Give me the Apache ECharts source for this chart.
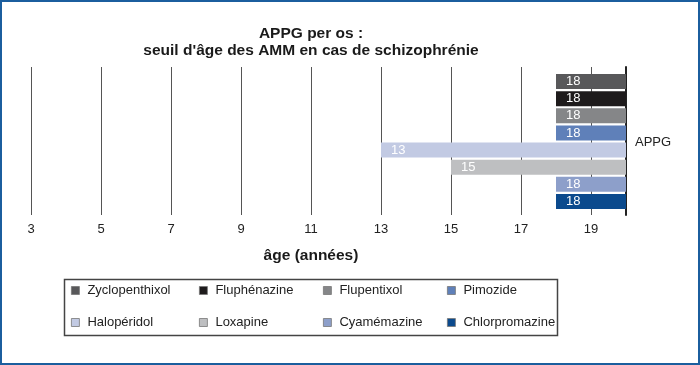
<!DOCTYPE html>
<html>
<head>
<meta charset="utf-8">
<script src="https://cdn.jsdelivr.net/npm/echarts@6/dist/echarts.min.js"></script>
<style>
  html, body { margin: 0; padding: 0; background: #fff; }
  #chart { width: 700px; height: 365px; }
</style>
</head>
<body>
<div id="chart"></div>
<script>
// ---- Data ----
const categories = ['Zyclopenthixol', 'Fluphénazine', 'Flupentixol', 'Pimozide', 'Halopéridol', 'Loxapine', 'Cyamémazine', 'Chlorpromazine'];
const ageThreshold = [18, 18, 18, 18, 13, 15, 18, 18];
const axisMin = 3;
const axisMax = 20;
const tickStep = 2;
const colors = ['#58585a', '#1e1b1c', '#858688', '#5f80b9', '#c2cae3', '#bebfc1', '#8d9fca', '#0b4a8d'];
const titleText = "APPG per os :\nseuil d'âge des AMM en cas de schizophrénie";
const axisTitle = 'âge (années)';
const sideLabel = 'APPG';

// ---- Layout ----
const FONT = "'Liberation Sans', Arial, Helvetica, sans-serif";
const legendCols = [71, 199, 323, 447];
const legendRows = [284, 316];

const chart = echarts.init(document.getElementById('chart'), null, { renderer: 'canvas' });

const series = [{
  name: '__base',
  type: 'bar',
  stack: 's',
  xAxisIndex: 1,
  yAxisIndex: 1,
  barWidth: 15,
  silent: true,
  itemStyle: { color: 'rgba(0,0,0,0)' },
  data: ageThreshold
}];
categories.forEach((name, i) => {
  series.push({
    name: name,
    type: 'bar',
    stack: 's',
    xAxisIndex: 1,
    yAxisIndex: 1,
    barWidth: 15,
    itemStyle: { color: colors[i] },
    label: {
      show: true,
      position: 'insideLeft',
      distance: 10,
      formatter: String(ageThreshold[i]),
      color: '#fff',
      fontSize: 13,
      fontFamily: FONT
    },
    data: categories.map((c, j) => j === i ? axisMax - ageThreshold[i] : '-')
  });
});

const legends = categories.map((name, i) => ({
  data: [name],
  left: legendCols[i % 4],
  top: legendRows[Math.floor(i / 4)],
  orient: 'horizontal',
  padding: 0,
  itemWidth: 8,
  itemHeight: 8,
  icon: 'rect',
  selectedMode: false,
  itemStyle: { borderColor: '#777', borderWidth: 0.8 },
  textStyle: { fontSize: 13, color: '#222', fontFamily: FONT, padding: [0, 0, 0, 3] }
}));

chart.setOption({
  animation: false,
  backgroundColor: '#fff',
  textStyle: { fontFamily: FONT },
  grid: [
    { left: 31, right: 74, top: 67, bottom: 150 },
    { left: 31, right: 74, top: 73, height: 137 }
  ],
  xAxis: [{
    gridIndex: 0,
    type: 'value',
    min: axisMin,
    max: axisMax,
    interval: tickStep,
    axisLine: { show: false },
    axisTick: { show: false },
    splitLine: { show: true, lineStyle: { color: '#555', width: 1 } },
    axisLabel: { show: true, showMaxLabel: false, margin: 8, fontSize: 13, color: '#222', fontFamily: FONT }
  }, {
    gridIndex: 1,
    type: 'value',
    min: axisMin,
    max: axisMax,
    show: false
  }],
  yAxis: [{
    gridIndex: 0,
    type: 'value',
    position: 'right',
    axisLine: { show: true, onZero: false, lineStyle: { color: '#222', width: 2 } },
    axisTick: { show: false },
    axisLabel: { show: false },
    splitLine: { show: false }
  }, {
    gridIndex: 1,
    type: 'category',
    inverse: true,
    data: categories,
    show: false
  }],
  legend: legends,
  series: series,
  graphic: [
    {
      type: 'rect', silent: true,
      shape: { x: 1, y: 1, width: 698, height: 363 },
      style: { fill: 'none', stroke: '#1b5e9e', lineWidth: 2 }
    },
    {
      type: 'rect', silent: true,
      shape: { x: 64.5, y: 279.5, width: 493, height: 56 },
      style: { fill: 'none', stroke: '#444', lineWidth: 1.5 }
    },
    {
      type: 'text', silent: true, x: 311, y: 42.5,
      style: { text: titleText, align: 'center', verticalAlign: 'middle', lineHeight: 17,
        font: "bold 15.5px " + FONT, fill: '#1a1a1a' }
    },
    {
      type: 'text', silent: true, x: 311, y: 256,
      style: { text: axisTitle, align: 'center', verticalAlign: 'middle',
        font: "bold 15.5px " + FONT, fill: '#1a1a1a' }
    },
    {
      type: 'text', silent: true, x: 635, y: 142,
      style: { text: sideLabel, align: 'left', verticalAlign: 'middle',
        font: "13px " + FONT, fill: '#222' }
    }
  ]
});
</script>
</body>
</html>
